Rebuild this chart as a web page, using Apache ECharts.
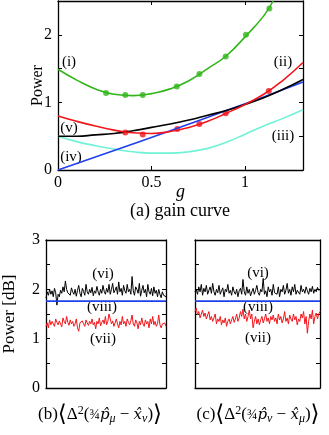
<!DOCTYPE html>
<html>
<head>
<meta charset="utf-8">
<title>gain curve</title>
<script src="https://cdn.jsdelivr.net/npm/echarts@6/dist/echarts.min.js"></script>
<style>
  html, body { margin: 0; padding: 0; background: #fff; }
  #main { width: 329px; height: 435px; }
</style>
</head>
<body>
<div id="main"></div>
<script>
  // (a) gain curve -- [g, power]
  var curveI   = [[0,1.49],[0.1,1.33],[0.2,1.2],[0.3,1.12],[0.4,1.1],[0.5,1.13],[0.6,1.2],[0.7,1.32],[0.8,1.5],[0.9,1.69],[1.0,1.97],[1.1,2.28],[1.15,2.5]];
  var curveII  = [[0,0.8],[0.1,0.72],[0.2,0.65],[0.3,0.59],[0.4,0.55],[0.5,0.54],[0.6,0.57],[0.7,0.63],[0.8,0.72],[0.9,0.84],[1.0,0.97],[1.1,1.12],[1.2,1.32],[1.31,1.59]];
  var curveIII = [[0,0.5],[0.1,0.42],[0.2,0.36],[0.3,0.31],[0.4,0.27],[0.5,0.25],[0.6,0.25],[0.7,0.27],[0.8,0.32],[0.9,0.41],[1.0,0.53],[1.1,0.65],[1.2,0.76],[1.31,0.89]];
  var curveIV  = [[0,0],[0.3,0.29],[0.6,0.58],[0.9,0.88],[1.1,1.08],[1.31,1.3]];
  var curveV   = [[0,0.5],[0.1,0.5],[0.2,0.52],[0.3,0.54],[0.4,0.58],[0.5,0.63],[0.6,0.68],[0.7,0.74],[0.8,0.81],[0.9,0.88],[1.0,0.97],[1.1,1.07],[1.2,1.19],[1.31,1.34]];
  var dotsI    = [[0.257,1.14],[0.36,1.11],[0.453,1.11],[0.635,1.235],[0.756,1.42],[0.897,1.68],[1.005,2.0],[1.13,2.39]];
  var dotsII   = [[0.36,0.555],[0.453,0.525],[0.638,0.607],[0.756,0.68],[0.897,0.84],[1.127,1.17]];

  // (b) and (c) power [dB] traces
  var blackB = [1.82,1.95,1.88,2.0,1.9,1.97,1.85,2.02,1.93,1.68,1.9,1.85,1.98,1.92,2.05,1.95,2.17,2.0,1.93,1.97,1.88,2.03,1.95,1.9,2.0,1.86,1.98,2.08,1.92,1.85,2.02,1.96,1.88,2.1,1.95,1.9,2.0,1.93,2.04,1.87,1.97,1.92,2.06,1.95,1.88,2.0,1.92,2.08,1.96,1.9,2.02,1.94,2.1,1.9,2.0,2.12,1.93,1.98,2.05,1.9,2.15,1.95,2.02,1.88,2.08,1.97,1.92,2.1,1.95,2.0,1.9,2.26,1.97,1.88,2.05,2.0,1.92,2.12,1.86,1.98,2.08,1.93,2.0,1.85,2.1,1.95,1.9,2.02,1.87,2.05,1.92,1.98,1.85,2.0,1.9,1.83,1.95,1.88,1.92,1.85];
  var redB   = [1.25,1.32,1.22,1.38,1.28,1.35,1.3,1.25,1.4,1.33,1.28,1.36,1.3,1.24,1.42,1.35,1.3,1.45,1.33,1.27,1.38,1.3,1.35,1.25,1.3,1.4,1.22,1.15,1.32,1.28,1.36,1.3,1.25,1.38,1.32,1.27,1.35,1.3,1.4,1.28,1.33,1.2,1.35,1.3,1.42,1.26,1.33,1.38,1.3,1.45,1.28,1.35,1.5,1.4,1.3,1.36,1.25,1.32,1.4,1.3,1.22,1.35,1.28,1.45,1.3,1.35,1.25,1.4,1.33,1.28,1.36,1.48,1.3,1.25,1.38,1.32,1.2,1.35,1.28,1.42,1.3,1.25,1.38,1.3,1.35,1.22,1.4,1.3,1.45,1.28,1.35,1.25,1.3,1.48,1.28,1.22,1.3,1.26,1.32,1.25];
  var blackC = [1.95,2.0,1.9,2.05,1.95,2.1,1.88,2.02,1.95,2.08,1.9,1.98,2.05,1.92,2.12,1.95,1.88,2.0,1.93,2.08,1.9,1.97,2.03,1.85,2.0,1.95,2.1,1.92,1.98,1.88,2.05,1.95,1.9,2.0,1.85,1.97,2.02,1.9,2.2,1.95,1.88,2.05,1.92,2.0,1.87,1.95,2.02,1.9,1.98,2.08,1.93,1.88,2.0,1.95,2.22,1.9,1.97,1.85,2.05,1.95,2.0,1.88,2.1,1.93,1.97,1.9,2.05,1.85,2.0,1.95,2.08,1.9,1.98,2.12,1.92,2.0,1.88,2.05,1.95,2.1,1.9,1.98,2.02,1.9,2.08,1.95,2.0,1.92,2.05,1.97,1.9,2.02,1.95,2.06,1.92,2.0,1.95,2.04,1.98,2.0];
  var redC   = [1.55,1.62,1.48,1.55,1.42,1.5,1.58,1.45,1.52,1.4,1.48,1.55,1.38,1.45,1.35,1.42,1.5,1.3,1.4,1.35,1.45,1.28,1.38,1.32,1.42,1.25,1.35,1.4,1.3,1.38,1.45,1.33,1.4,1.5,1.35,1.42,1.55,1.45,1.6,1.4,1.5,1.35,1.45,1.58,1.4,1.5,1.22,1.35,1.45,1.3,1.4,1.28,1.38,1.45,1.32,1.4,1.5,1.35,1.42,1.3,1.45,1.38,1.48,1.35,1.42,1.3,1.5,1.38,1.45,1.32,1.4,1.55,1.35,1.42,1.3,1.48,1.4,1.35,1.5,1.38,1.45,1.28,1.4,1.35,1.5,1.42,1.55,1.3,1.45,1.11,1.35,1.5,1.4,1.58,1.3,1.45,1.52,1.4,1.5,1.55];
  var blueLevel = 1.76;

  var SERIF = '"Liberation Serif", "DejaVu Serif", serif';
  var GREEN = '#33b51c', RED = '#f2151a', BLUE = '#2040ee', CYAN = '#6ff2d6', BLACK = '#000';

  function idx(arr) {
    return arr.map(function (v, i) { return [i, v]; });
  }

  // axis helpers: ticks inside, mirrored on the opposite side
  function xAx(grid, min, max, interval, pos, showLabel, name) {
    return {
      type: 'value', gridIndex: grid, min: min, max: max, interval: interval, position: pos,
      name: name || '', nameLocation: 'middle', nameGap: 13, nameMoveOverlap: false,
      nameTextStyle: { fontFamily: SERIF, fontStyle: 'italic', fontSize: 18, color: '#000' },
      axisLine: { show: true, onZero: false, lineStyle: { color: '#000', width: 1.3 } },
      axisTick: { show: interval != null, inside: true, length: 4, lineStyle: { color: '#000' } },
      axisLabel: { show: !!showLabel, margin: 5, fontFamily: SERIF, fontSize: 16, color: '#000',
        formatter: function (v) { return (v === 0 || v === 0.5 || v === 1) ? String(v) : ''; } },
      splitLine: { show: false }
    };
  }
  function yAx(grid, min, max, pos, showLabel, name, gap, nameSize) {
    return {
      type: 'value', gridIndex: grid, min: min, max: max, interval: 0.5, position: pos,
      name: name || '', nameLocation: 'middle', nameGap: gap || 20, nameMoveOverlap: false,
      nameTextStyle: { fontFamily: SERIF, fontSize: nameSize || 16, color: '#000' },
      axisLine: { show: true, onZero: false, lineStyle: { color: '#000', width: 1.3 } },
      axisTick: { show: true, inside: true, length: 4, lineStyle: { color: '#000' } },
      axisLabel: { show: !!showLabel, margin: 6, fontFamily: SERIF, fontSize: 16, color: '#000',
        formatter: function (v) { return v % 1 === 0 ? String(v) : ''; } },
      splitLine: { show: false }
    };
  }

  function line(data, color, xi, yi, smooth) {
    return { type: 'line', data: data, xAxisIndex: xi, yAxisIndex: yi, smooth: smooth,
      showSymbol: false, lineStyle: { color: color, width: smooth ? 1.6 : 1 }, animation: false };
  }
  function dots(data, color) {
    return { type: 'scatter', data: data, xAxisIndex: 0, yAxisIndex: 0, symbolSize: 6,
      itemStyle: { color: color }, animation: false };
  }

  function label(text, x, y, size) {
    return { type: 'text', x: x, y: y,
      style: { text: text, fontFamily: SERIF, fontSize: size || 15, fill: '#000', align: 'center', verticalAlign: 'middle' } };
  }
  function caption(tag, subP, subX, x) {
    return { type: 'text', x: x, y: 415,
      style: {
        text: '{t|(' + tag + ')}{br|⟨}{t|Δ}{sup|2}{t|(}{fr|¾}{it|p̂}{sub|' + subP + '}{t| − }{it|x̂}{sub|' +
          subX + '}{t|)}{br|⟩}',
        align: 'center', verticalAlign: 'middle', fill: '#000',
        rich: {
          t: { fontFamily: SERIF, fontSize: 17, lineHeight: 20 },
          it: { fontFamily: '"DejaVu Serif", serif', fontStyle: 'italic', fontSize: 15, lineHeight: 20 },
          br: { fontFamily: '"DejaVu Sans", sans-serif', fontSize: 23, lineHeight: 20, color: '#333' },
          sup: { fontFamily: SERIF, fontSize: 12, lineHeight: 12, verticalAlign: 'top' },
          sub: { fontFamily: SERIF, fontStyle: 'italic', fontSize: 12, lineHeight: 12, verticalAlign: 'bottom' },
          fr: { fontFamily: SERIF, fontSize: 14, lineHeight: 20 }
        }
      } };
  }

  var chart = echarts.init(document.getElementById('main'), null, { renderer: 'canvas' });

  var option = {
    backgroundColor: '#fff',
    animation: false,
    grid: [
      { left: 58, top: 1, width: 245, height: 169, show: false },
      { left: 42, top: 240, width: 124, height: 148, show: false },
      { left: 195, top: 240, width: 125, height: 148, show: false }
    ],
    xAxis: [
      xAx(0, 0, 1.31, 0.5, 'bottom', true, 'g'),
      xAx(0, 0, 1.31, 0.5, 'top', false),
      xAx(1, 0, 99, null, 'bottom', false),
      xAx(1, 0, 99, null, 'top', false),
      xAx(2, 0, 99, null, 'bottom', false),
      xAx(2, 0, 99, null, 'top', false)
    ],
    yAxis: [
      yAx(0, 0, 2.5, 'left', true, 'Power', 12, 16),
      yAx(0, 0, 2.5, 'right', false),
      yAx(1, 0, 3, 'left', true, 'Power [dB]', 28, 17),
      yAx(1, 0, 3, 'right', false),
      yAx(2, 0, 3, 'left', false),
      yAx(2, 0, 3, 'right', false)
    ],
    series: [
      line(curveIII, CYAN, 0, 0, true),
      line(curveIV, BLUE, 0, 0, true),
      line(curveV, BLACK, 0, 0, true),
      line(curveII, RED, 0, 0, true),
      line(curveI, GREEN, 0, 0, true),
      dots(dotsI, GREEN),
      dots(dotsII, RED),

      line(idx(redB), RED, 2, 2, false),
      line(idx(blackB), BLACK, 2, 2, false),
      { type: 'line', data: [[0, blueLevel], [99, blueLevel]], xAxisIndex: 2, yAxisIndex: 2,
        showSymbol: false, lineStyle: { color: BLUE, width: 1.6 } },

      line(idx(redC), RED, 4, 4, false),
      line(idx(blackC), BLACK, 4, 4, false),
      { type: 'line', data: [[0, blueLevel], [99, blueLevel]], xAxisIndex: 4, yAxisIndex: 4,
        showSymbol: false, lineStyle: { color: BLUE, width: 1.6 } }
    ],
    graphic: [
      label('(i)', 69, 62), label('(ii)', 283, 62), label('(iii)', 283, 136),
      label('(v)', 69, 128), label('(iv)', 71, 157),
      label('(a) gain curve', 180, 211, 18),
      label('(vi)', 103, 274), label('(viii)', 102, 307), label('(vii)', 103, 339),
      label('(vi)', 258, 273), label('(viii)', 258, 307), label('(vii)', 258, 338),
      caption('b', 'μ', 'ν', 100),
      caption('c', 'ν', 'μ', 258)
    ]
  };

  chart.setOption(option);
  window.addEventListener('resize', function () { chart.resize(); });
</script>
</body>
</html>
